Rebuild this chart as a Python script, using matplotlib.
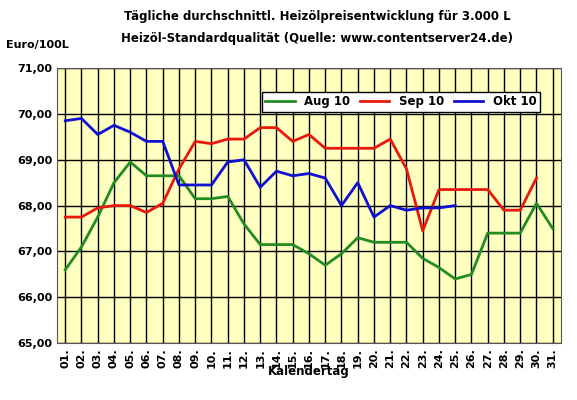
import numpy as np
import matplotlib.pyplot as plt

days = [f"{d:02d}." for d in range(1, 32)]
aug = [66.6, 67.1, 67.75, 68.5, 68.95, 68.65, 68.65, 68.65, 68.15, 68.15, 68.2, 67.6,
       67.15, 67.15, 67.15, 66.95, 66.7, 66.95, 67.3, 67.2, 67.2, 67.2, 66.85, 66.65,
       66.4, 66.5, 67.4, 67.4, 67.4, 68.05, 67.5]
sep = [67.75, 67.75, 67.95, 68.0, 68.0, 67.85, 68.05, 68.8, 69.4, 69.35, 69.45, 69.45,
       69.7, 69.7, 69.4, 69.55, 69.25, 69.25, 69.25, 69.25, 69.45, 68.8, 67.45, 68.35,
       68.35, 68.35, 68.35, 67.9, 67.9, 68.6]
okt = [69.85, 69.9, 69.55, 69.75, 69.6, 69.4, 69.4, 68.45, 68.45, 68.45, 68.95, 69.0,
       68.4, 68.75, 68.65, 68.7, 68.6, 68.0, 68.5, 67.75, 68.0, 67.9, 67.95, 67.95, 68.0]

fig = plt.figure(figsize=(5.77, 4.0), dpi=100)
fig.patch.set_facecolor('white')
ax = fig.add_axes([0.099, 0.142, 0.873, 0.688])
ax.set_facecolor('#ffffc0')

x = np.arange(1, 32)
ax.plot(x[:len(aug)], aug, color='#228b22', lw=2, label='Aug 10')
ax.plot(x[:len(sep)], sep, color='#e8180c', lw=2, label='Sep 10')
ax.plot(x[:len(okt)], okt, color='#1010d0', lw=2, label='Okt 10')

ax.set_xlim(0.5, 31.5)
ax.set_ylim(65, 71)
ax.set_yticks(np.arange(65, 71.1, 1))
ax.set_yticklabels([f"{v:.2f}".replace('.', ',') for v in np.arange(65, 71.1, 1)],
                   fontsize=8, fontweight='bold')
ax.set_xticks(x)
ax.set_xticklabels(days, rotation=90, fontsize=8, fontweight='bold')
ax.grid(True, color='black', lw=1)
ax.tick_params(length=0)
for s in ax.spines.values():
    s.set_color('#555555')
ax.set_xlabel('Kalendertag', fontsize=8.5, fontweight='bold', labelpad=-2)

fig.text(0.55, 0.95, 'Tägliche durchschnittl. Heizölpreisentwicklung für 3.000 L',
         ha='center', fontsize=8.5, fontweight='bold')
fig.text(0.55, 0.895, 'Heizöl-Standardqualität (Quelle: www.contentserver24.de)',
         ha='center', fontsize=8.5, fontweight='bold')
fig.text(0.01, 0.88, 'Euro/100L', fontsize=8, fontweight='bold')

leg = ax.legend(ncol=3, loc='upper right', bbox_to_anchor=(0.97, 0.935),
                prop={'weight': 'bold', 'size': 8.5}, fancybox=False, framealpha=1,
                edgecolor='black', handlelength=2.5, columnspacing=0.8, borderpad=0.3)

fig.savefig('out.png', dpi=100)
